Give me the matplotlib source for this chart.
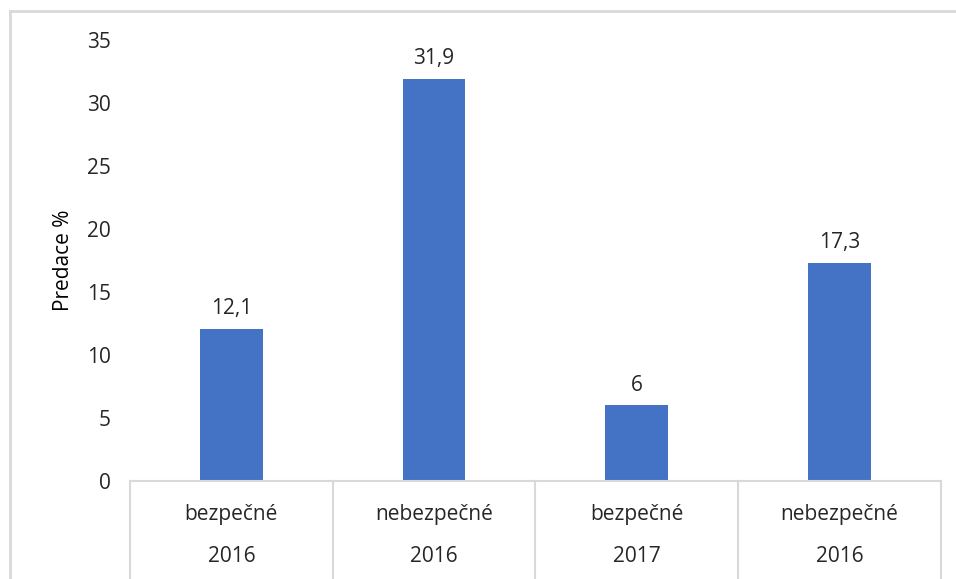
import matplotlib.pyplot as plt
from matplotlib.lines import Line2D

plt.rcParams['font.family'] = ['Open Sans', 'DejaVu Sans']

# predation data per nest type and year
kinds = ['bezpečné', 'nebezpečné', 'bezpečné', 'nebezpečné']
years = ['2016', '2016', '2017', '2016']
predace = [12.1, 31.9, 6, 17.3]

bar_color = '#4472C4'
grid_gray = '#D9D9D9'
text_color = '#262626'
fs = 15

fig = plt.figure(figsize=(9.56, 5.79), dpi=100)
ax = fig.add_axes([0.136, 0.1693, 0.848, 0.7616])

x = list(range(len(predace)))
bars = ax.bar(x, predace, width=0.31, color=bar_color)

# value labels above the bars, decimal comma
for rect, v in zip(bars, predace):
    lbl = f'{v:g}'.replace('.', ',')
    ax.annotate(lbl, (rect.get_x() + rect.get_width() / 2, v),
                xytext=(0, 7), textcoords='offset points',
                ha='center', va='bottom', fontsize=fs, color=text_color)

ax.set_xlim(-0.5, len(predace) - 0.5)
ax.set_ylim(0, 35)
ax.set_yticks(range(0, 36, 5))
ax.tick_params(axis='y', length=0, pad=14, labelsize=fs, labelcolor=text_color)
ax.set_xticks([])
ax.set_ylabel('Predace %', fontsize=fs, color='black', labelpad=9)

for side in ['top', 'right', 'left']:
    ax.spines[side].set_visible(False)
ax.spines['bottom'].set_color(grid_gray)
ax.spines['bottom'].set_linewidth(1.5)

# two-level category axis: nest type and year under each bar
trans = ax.get_xaxis_transform()
for i in range(len(predace) + 1):
    ax.plot([i - 0.5, i - 0.5], [0, -0.25], transform=trans,
            color=grid_gray, lw=1.5, clip_on=False)
for i, (k, y) in enumerate(zip(kinds, years)):
    ax.text(i, -0.077, k, transform=trans, ha='center', va='center',
            fontsize=fs, color=text_color)
    ax.text(i, -0.172, y, transform=trans, ha='center', va='center',
            fontsize=fs, color=text_color)

# chart frame
fig.add_artist(Line2D([0.0105, 0.0105], [0, 0.981], color=grid_gray, lw=2))
fig.add_artist(Line2D([0.0105, 1], [0.981, 0.981], color=grid_gray, lw=2))

fig.savefig('out.png', dpi=100)
